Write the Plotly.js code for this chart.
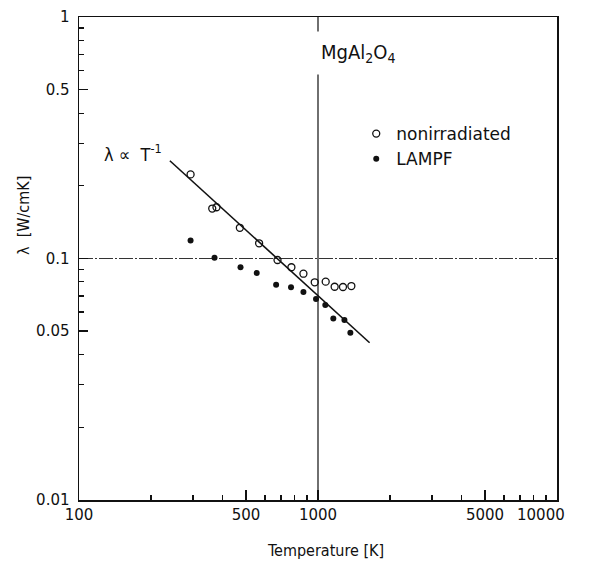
<!DOCTYPE html>
<html>
<head>
<meta charset="utf-8">
<script src="https://cdn.plot.ly/plotly-3.0.1.min.js"></script>
<style>html,body{margin:0;padding:0;background:#fff;}#chart{width:591px;height:573px;}</style>
</head>
<body>
<div id="chart"></div>
<script>
// Nonirradiated (open circles)
const nonirrT = [293, 361, 376, 471, 567, 677, 774, 869, 969, 1077, 1174, 1272, 1379];
const nonirrL = [0.223, 0.161, 0.163, 0.134, 0.1156, 0.0986, 0.092, 0.0865, 0.0797, 0.0802, 0.0764, 0.0762, 0.0769];
// LAMPF irradiated (filled circles)
const lampfT = [293, 369, 474, 554, 668, 771, 869, 981, 1073, 1159, 1290, 1366];
const lampfL = [0.1186, 0.1008, 0.092, 0.0871, 0.0779, 0.076, 0.0727, 0.068, 0.0642, 0.0565, 0.0556, 0.0493];
// lambda ~ 1/T guide line (end points)
const fitT = [240, 1644];
const fitL = [0.254, 0.0448];

const xTickVals = [100, 500, 1000, 5000, 10000];
const xTickText = ['100', '500', '1000', '5000', '10000'];
const yTickVals = [0.01, 0.05, 0.1, 0.5, 1];
const yTickText = ['0.01', '0.05', '0.1', '0.5', '1'];
const refX = 1000;
const refY = 0.1;

const FONT = '"DejaVu Sans", sans-serif';
const FONTC = '"DejaVu Sans Condensed", "DejaVu Sans", sans-serif';

// last x label is drawn shifted left (as in the original) via an annotation
const xTickTextShown = xTickText.map((t, i) => i === xTickText.length - 1 ? '' : t);

const traces = [
  {
    x: fitT, y: fitL, mode: 'lines', type: 'scatter',
    line: {color: '#111', width: 1.6}, showlegend: false, hoverinfo: 'skip'
  },
  {
    x: nonirrT, y: nonirrL, mode: 'markers', type: 'scatter', name: 'nonirradiated',
    marker: {symbol: 'circle-open', size: 7, color: '#111', line: {width: 1.3, color: '#111'}}
  },
  {
    x: lampfT, y: lampfL, mode: 'markers', type: 'scatter', name: 'LAMPF',
    marker: {symbol: 'circle', size: 6, color: '#111'}
  }
];

const layout = {
  width: 591, height: 573,
  margin: {l: 79, r: 34, t: 17, b: 73},
  paper_bgcolor: '#fff', plot_bgcolor: '#fff',
  font: {family: FONT, color: '#111', size: 15},
  showlegend: true,
  legend: {
    x: 0.58, y: 0.795, xanchor: 'left', yanchor: 'top',
    bgcolor: 'rgba(0,0,0,0)', font: {size: 17, family: FONT},
    itemwidth: 30, tracegroupgap: 0
  },
  xaxis: {
    type: 'log', range: [2, 4],
    tickmode: 'array', tickvals: xTickVals, ticktext: xTickTextShown,
    ticks: 'inside', ticklen: 10, tickwidth: 1.5, tickcolor: '#111',
    showline: true, linecolor: '#111', linewidth: 1.5, mirror: true,
    showgrid: false, zeroline: false,
    tickfont: {size: 15, family: FONT},
    minor: {ticks: 'inside', ticklen: 5, tickwidth: 1.2, tickcolor: '#111', dtick: 'D1', showgrid: false}
  },
  yaxis: {
    type: 'log', range: [-2, 0],
    tickmode: 'array', tickvals: yTickVals, ticktext: yTickText,
    ticks: 'inside', ticklen: 9, tickwidth: 1.5, tickcolor: '#111',
    showline: true, linecolor: '#111', linewidth: 1.5, mirror: true,
    showgrid: false, zeroline: false, ticklabelstandoff: 5,
    tickfont: {size: 15, family: FONT},
    minor: {ticks: 'inside', ticklen: 5, tickwidth: 1.2, tickcolor: '#111', dtick: 'D1', showgrid: false}
  },
  shapes: [
    {type: 'line', xref: 'x', yref: 'paper', x0: refX, x1: refX, y0: 0, y1: 1, layer: 'below',
     line: {color: '#222', width: 1.3}},
    {type: 'line', xref: 'paper', yref: 'y', x0: 0, x1: 1, y0: refY, y1: refY, layer: 'below',
     line: {color: '#333', width: 1, dash: '14px,2px,2px,2px'}}
  ],
  annotations: [
    {text: 'MgAl<sub>2</sub>O<sub>4</sub>', xref: 'paper', yref: 'paper', x: (358 - 79) / 478, y: (500 - 53) / 483,
     xanchor: 'center', yanchor: 'middle', showarrow: false, bgcolor: '#fff', borderpad: 8,
     font: {size: 20, family: FONTC}},
    {text: 'λ ∝  T<sup>-1</sup>', xref: 'paper', yref: 'paper', x: (102 - 79) / 478, y: (500 - 153) / 483,
     xanchor: 'left', yanchor: 'middle', showarrow: false, font: {size: 18, family: FONTC}},
    {text: 'λ  [W/cmK]', xref: 'paper', yref: 'paper', x: (23 - 79) / 478, y: (500 - 216) / 483,
     xanchor: 'center', yanchor: 'middle', textangle: -90, showarrow: false, font: {size: 16, family: FONTC}},
    {text: 'Temperature [K]', xref: 'paper', yref: 'paper', x: (325 - 79) / 478, y: (500 - 550) / 483,
     xanchor: 'center', yanchor: 'middle', showarrow: false, font: {size: 16, family: FONTC}},
    {text: xTickText[xTickText.length - 1], xref: 'paper', yref: 'paper', x: (541 - 79) / 478, y: (500 - 515) / 483,
     xanchor: 'center', yanchor: 'middle', showarrow: false, font: {size: 15, family: FONT}}
  ]
};

Plotly.newPlot('chart', traces, layout, {displayModeBar: false, staticPlot: true});
</script>
</body>
</html>
